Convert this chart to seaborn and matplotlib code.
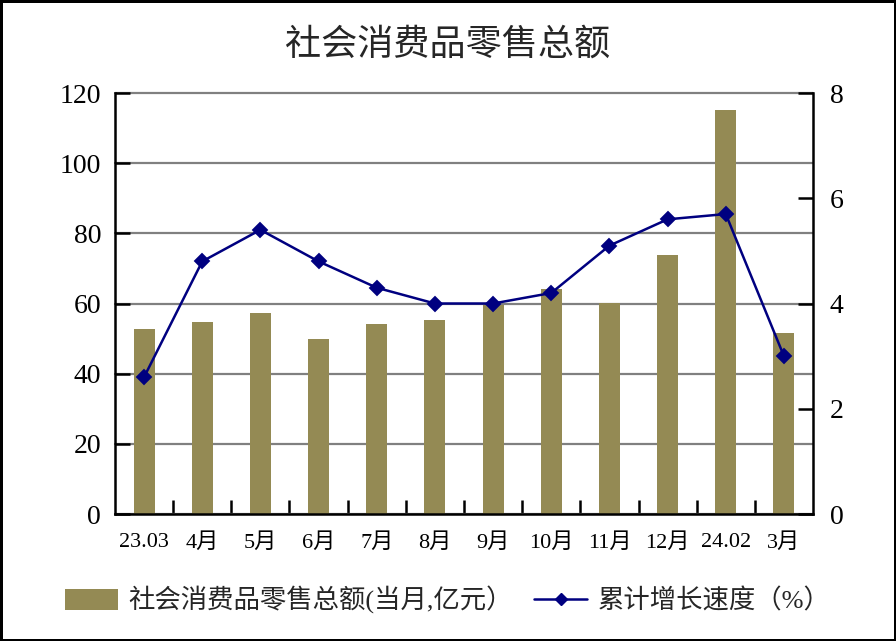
import matplotlib
matplotlib.use('Agg')
import numpy as np
import pandas as pd
import seaborn as sns
import matplotlib.pyplot as plt
from matplotlib.patches import Patch
from matplotlib.lines import Line2D

# data
months = ['23.03', '4月', '5月', '6月', '7月', '8月', '9月', '10月', '11月', '12月', '24.02', '3月']
sales = [52.7, 54.7, 57.3, 49.9, 54.2, 55.3, 59.6, 64.1, 60.1, 73.8, 115.2, 51.6]
growth = [2.6, 4.8, 5.4, 4.8, 4.3, 4.0, 4.0, 4.2, 5.1, 5.6, 5.7, 3.0]
left_ticks = [0, 20, 40, 60, 80, 100, 120]
right_ticks = [0, 2, 4, 6, 8]

title = '社会消费品零售总额'
bar_label = '社会消费品零售总额(当月,亿元）'
line_label = '累计增长速度（%）'

bar_color = '#948A54'
line_color = '#000080'

sns.set_style('white')
plt.rcParams['font.family'] = ['Liberation Serif', 'Noto Sans CJK SC']

df = pd.DataFrame({'month': months, 'sales': sales, 'growth': growth})

fig = plt.figure(figsize=(8.96, 6.41), dpi=100, linewidth=2.5, edgecolor='black')
ax = fig.add_axes([0.1283, 0.1981, 0.7791, 0.6568])

sns.barplot(data=df, x='month', y='sales', color=bar_color, saturation=1,
            width=0.36, linewidth=0, ax=ax)
ax.set_ylim(0, 120)
ax.set_yticks(left_ticks)
ax.yaxis.grid(True, color='#808080', linewidth=1.6)
ax.set_axisbelow(True)
for gl in ax.get_ygridlines():
    gl.set_clip_on(False)

ax2 = ax.twinx()
sns.pointplot(data=df, x='month', y='growth', color=line_color, markers='D',
              markersize=7.5, linewidth=1.8, ax=ax2)
ax2.set_ylim(0, 8)
ax2.set_yticks(right_ticks)
ax.set_xlim(-0.5, len(months) - 0.5)

# spines
for a in (ax, ax2):
    a.set_xlabel('')
    a.set_ylabel('')
    a.spines['top'].set_visible(False)
ax.spines['right'].set_visible(False)
ax2.spines['left'].set_visible(False)
ax2.spines['bottom'].set_visible(False)
for s in ('left', 'bottom'):
    ax.spines[s].set_color('black')
    ax.spines[s].set_linewidth(1.8)
ax2.spines['right'].set_color('black')
ax2.spines['right'].set_linewidth(1.8)

# ticks
ax.tick_params(axis='y', direction='in', length=11, width=1.8, left=True,
               labelsize=20, pad=10, colors='black')
ax2.tick_params(axis='y', direction='in', length=11, width=1.8, right=True,
                labelsize=20, pad=12, colors='black')
ax.set_xticks(np.arange(len(months)))
ax.set_xticklabels(months)
ax.set_xticks(np.arange(0.5, len(months) - 1, 1), minor=True)
ax.tick_params(axis='x', which='major', length=0, labelsize=16, pad=14, colors='black')
ax.tick_params(axis='x', which='minor', direction='in', length=10, width=1.8,
               bottom=True, colors='black')

fig.text(0.5, 1 - 45 / 641, title, ha='center', va='center', fontsize=26,
         family='Noto Sans CJK SC')

handles = [Patch(facecolor=bar_color, edgecolor='none', label=bar_label),
           Line2D([], [], color=line_color, marker='D', markersize=6,
                  linewidth=1.8, label=line_label)]
fig.legend(handles=handles, loc='center', bbox_to_anchor=(0.5, 1 - 600 / 641),
           ncol=2, frameon=False, fontsize=19, handlelength=2.0,
           handleheight=0.8, handletextpad=0.4, columnspacing=0.8)

fig.savefig('out.png', dpi=100, edgecolor=fig.get_edgecolor())
